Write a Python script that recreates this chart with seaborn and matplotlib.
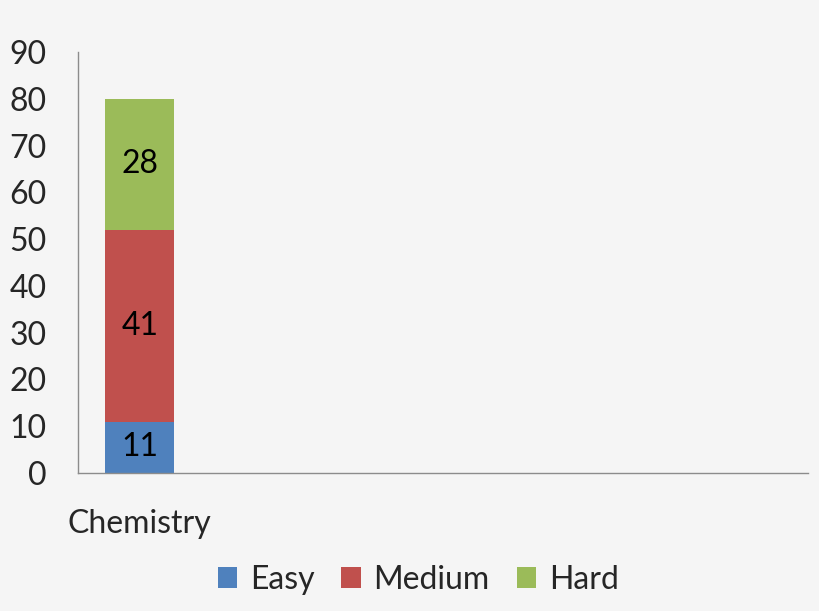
import numpy as np
import pandas as pd
import matplotlib
matplotlib.use("Agg")
import matplotlib.pyplot as plt
import seaborn as sns
from matplotlib.patches import Patch

# dane
subjects = ["Chemistry"]
levels = ["Easy", "Medium", "Hard"]
easy = [11]
medium = [41]
hard = [28]
colors = ["#4f81bd", "#c0504d", "#9bbb59"]
bg = "#f5f5f5"

sns.set_theme(style="white")
plt.rcParams["font.family"] = ["Lato", "DejaVu Sans"]

fig = plt.figure(figsize=(8.2, 6.11), dpi=100, facecolor=bg)
ax = fig.add_axes([0.0951, 0.2259, 0.8899, 0.689])
ax.set_facecolor(bg)

df = pd.DataFrame({"subject": subjects, "Easy": easy, "Medium": medium, "Hard": hard})
bottom = np.zeros(len(df))
for lvl, col in zip(levels, colors):
    sns.barplot(data=df, x="subject", y=lvl, color=col, width=0.558,
                bottom=bottom, ax=ax, saturation=1, linewidth=0)
    for i, v in enumerate(df[lvl]):
        ax.text(i, bottom[i] + v / 2, str(v), ha="center", va="center",
                fontsize=23, color="black")
    bottom = bottom + df[lvl].values

ax.set_xlim(-0.5, 5.4)
ax.set_ylim(0, 90)
ax.set_yticks(range(0, 91, 10))
ax.tick_params(axis="y", labelsize=23, pad=22.5, length=0)
ax.tick_params(axis="x", labelsize=23, pad=26, length=0)
ax.set_xlabel("")
ax.set_ylabel("")
for s in ["top", "right"]:
    ax.spines[s].set_visible(False)
for s in ["left", "bottom"]:
    ax.spines[s].set_color("#8c8c8c")
    ax.spines[s].set_linewidth(1)

handles = [Patch(facecolor=c, edgecolor="none", label=l) for c, l in zip(colors, levels)]
fig.legend(handles=handles, loc="center", bbox_to_anchor=(0.51, 0.051), ncol=3,
           frameon=False, fontsize=23, handlelength=0.6, handleheight=0.6,
           handletextpad=0.4, columnspacing=0.85)

fig.savefig("out.png", dpi=100, facecolor=bg)
